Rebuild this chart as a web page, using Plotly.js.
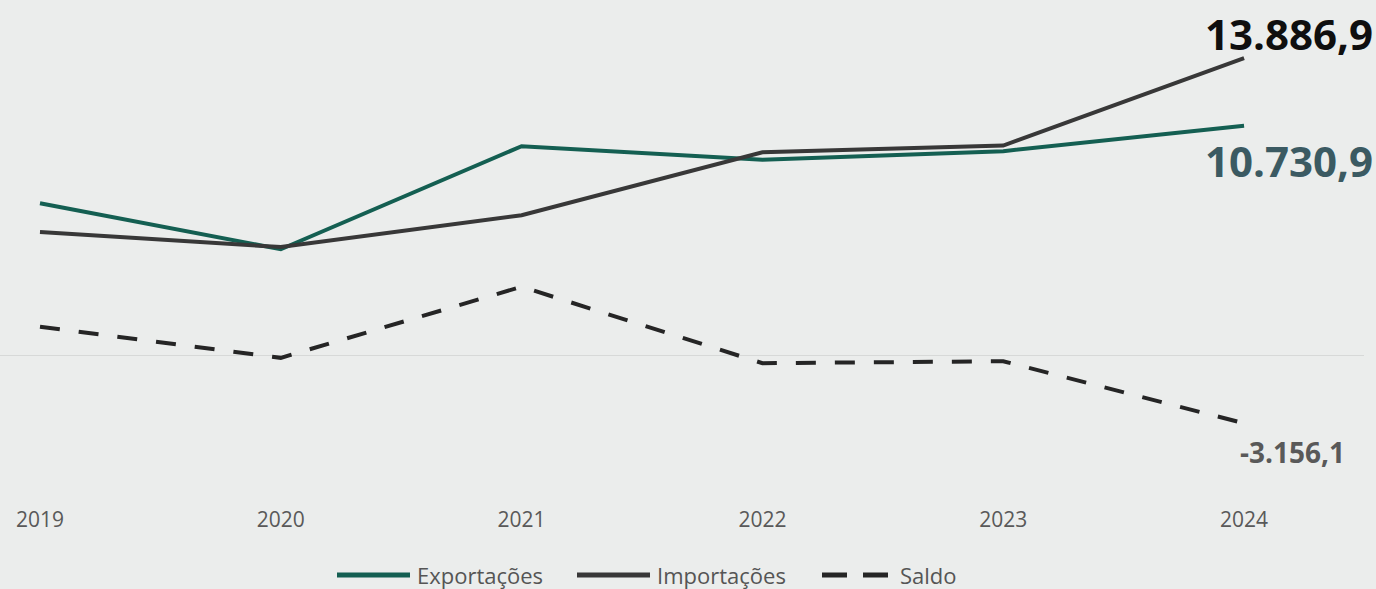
<!DOCTYPE html>
<html>
<head>
<meta charset="utf-8">
<script src="https://cdn.plot.ly/plotly-3.0.1.min.js"></script>
<style>
  html, body { margin: 0; padding: 0; background: #ebedec; }
  #chart { width: 1376px; height: 589px; }
</style>
</head>
<body>
<div id="chart"></div>
<script>
// ---- Data (milhões) ----
const years = [2019, 2020, 2021, 2022, 2023, 2024];
const yearLabels = ["2019", "2020", "2021", "2022", "2023", "2024"];
const exportacoes = [7120, 4970, 9780, 9150, 9550, 10730.9];
const importacoes = [5770, 5070, 6560, 9500, 9810, 13886.9];
const saldo = [1350, -100, 3220, -350, -260, -3156.1];
const seriesNames = ["Exportações", "Importações", "Saldo"];
const seriesColors = ["#145f52", "#383838", "#252525"];

function fmtBR(v) {
  const neg = v < 0;
  const parts = Math.abs(v).toFixed(1).split(".");
  const intPart = parts[0].replace(/\B(?=(\d{3})+(?!\d))/g, ".");
  return (neg ? "-" : "") + intPart + "," + parts[1];
}

const last = years.length - 1;
const FONT = "Open Sans, Noto Sans, sans-serif";

// plot area geometry (px) for the hand-made legend
const PLOT_W = 1364, PLOT_H = 505;
const px = v => v / PLOT_W;
const py = v => (PLOT_H - v) / PLOT_H;

const traces = [
  {
    x: years, y: exportacoes, name: seriesNames[0], type: "scatter", mode: "lines",
    line: { color: seriesColors[0], width: 4 }
  },
  {
    x: years, y: importacoes, name: seriesNames[1], type: "scatter", mode: "lines",
    line: { color: seriesColors[1], width: 4 }
  },
  {
    x: years, y: saldo, name: seriesNames[2], type: "scatter", mode: "lines",
    line: { color: seriesColors[2], width: 4, dash: "20px,19px" }
  }
];

const LEG_Y = 575;
const legendShapes = [
  { x0: 337, x1: 410, color: seriesColors[0] },
  { x0: 577, x1: 650, color: seriesColors[1] },
  { x0: 822, x1: 847, color: seriesColors[2] },
  { x0: 863, x1: 888, color: seriesColors[2] }
].map(s => ({
  type: "line", xref: "paper", yref: "paper",
  x0: px(s.x0), x1: px(s.x1), y0: py(LEG_Y), y1: py(LEG_Y),
  line: { color: s.color, width: 5 }
}));

const legendTextX = [415, 655, 898];
const legendTexts = seriesNames.map((n, i) => ({
  xref: "paper", yref: "paper", x: px(legendTextX[i]), y: py(LEG_Y),
  xanchor: "left", yanchor: "middle", showarrow: false, text: n,
  font: { family: FONT, size: 22, color: "#555555" }
}));

const layout = {
  width: 1376, height: 589,
  paper_bgcolor: "#ebedec", plot_bgcolor: "#ebedec",
  margin: { l: 0, r: 12, t: 0, b: 84, autoexpand: false },
  showlegend: false,
  font: { family: FONT, color: "#595959" },
  xaxis: {
    range: [2018.834, 2024.498],
    tickvals: years, ticktext: yearLabels,
    showgrid: false, zeroline: false, showline: false, ticks: "",
    tickfont: { family: FONT, size: 21, color: "#595959" }
  },
  yaxis: {
    range: [-6970, 16606],
    showgrid: false, showticklabels: false, showline: false, ticks: "",
    zeroline: true, zerolinecolor: "#d7d9d8", zerolinewidth: 1.5
  },
  shapes: legendShapes,
  annotations: [
    {
      x: years[last], y: importacoes[last], xref: "x", yref: "y",
      text: "<b>" + fmtBR(importacoes[last]) + "</b>", showarrow: false,
      xanchor: "right", yanchor: "middle", xshift: 131, yshift: 25,
      font: { family: FONT, size: 42, color: "#0f0f0f" }
    },
    {
      x: years[last], y: exportacoes[last], xref: "x", yref: "y",
      text: "<b>" + fmtBR(exportacoes[last]) + "</b>", showarrow: false,
      xanchor: "right", yanchor: "middle", xshift: 131, yshift: -35,
      font: { family: FONT, size: 42, color: "#3b5a62" }
    },
    {
      x: years[last], y: saldo[last], xref: "x", yref: "y",
      text: "<b>" + fmtBR(saldo[last]) + "</b>", showarrow: false,
      xanchor: "left", yanchor: "middle", xshift: -6, yshift: -29,
      font: { family: FONT, size: 28, color: "#595959" }
    }
  ].concat(legendTexts)
};

Plotly.newPlot("chart", traces, layout, { displayModeBar: false, staticPlot: true });
</script>
</body>
</html>
